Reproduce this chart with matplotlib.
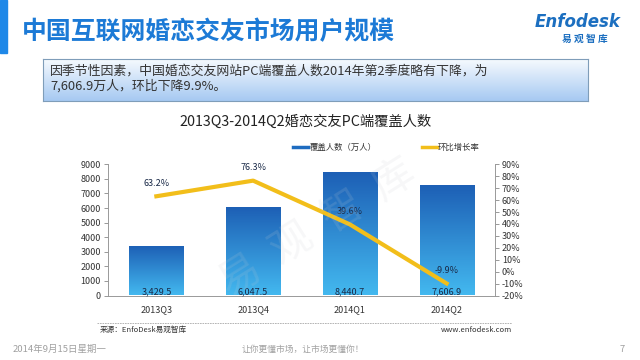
import numpy as np
import matplotlib
matplotlib.use('Agg')
import matplotlib.pyplot as plt
from matplotlib.colors import LinearSegmentedColormap
from matplotlib.lines import Line2D
from matplotlib.patches import Rectangle

plt.rcParams['font.family'] = ['Noto Sans CJK SC', 'DejaVu Sans']

quarters = ['2013Q3', '2013Q4', '2014Q1', '2014Q2']
users = [3429.5, 6047.5, 8440.7, 7606.9]          # 覆盖人数（万人）
growth = [63.2, 76.3, 39.6, -9.9]                  # 环比增长率 %
user_labels = ['3,429.5', '6,047.5', '8,440.7', '7,606.9']
left_ticks = list(range(0, 9001, 1000))
right_ticks = list(range(-20, 91, 10))

W, H = 640, 360
fig = plt.figure(figsize=(6.4, 3.6), dpi=100)
fig.patch.set_facecolor('white')

def fx(px):
    return px / W

def fy(py):
    return 1 - py / H

# header
fig.patches.append(Rectangle((0, fy(53)), fx(7), 53 / H, transform=fig.transFigure,
                             color='#1E88E8', zorder=1))
fig.text(fx(22), fy(32), '中国互联网婚恋交友市场用户规模', fontsize=17.9, weight='bold',
         color='#1C7AD6', va='center', ha='left')
fig.text(fx(578), fy(22), 'Enfodesk', fontsize=12, style='italic', weight='bold',
         color='#1C6FC0', va='center', ha='center', family=['DejaVu Sans'])
fig.text(fx(585), fy(39), '易 观 智 库', fontsize=7, style='italic', weight='bold',
         color='#1C6FC0', va='center', ha='center')

# summary box with gradient
box = fig.add_axes([fx(43), fy(101), fx(545), 42 / H])
grad = np.linspace(0, 1, 100).reshape(-1, 1)
box_cmap = LinearSegmentedColormap.from_list('box', ['#F6FAFE', '#A6C9F2'])
box.imshow(grad, aspect='auto', cmap=box_cmap, extent=[0, 1, 0, 1], origin='upper')
box.set_xticks([])
box.set_yticks([])
for s in box.spines.values():
    s.set_color('#7F9DB9')
    s.set_linewidth(0.8)
fig.text(fx(50), fy(71.5), '因季节性因素，中国婚恋交友网站PC端覆盖人数2014年第2季度略有下降，为',
         fontsize=9.3, color='#333333', va='center', ha='left')
fig.text(fx(50), fy(85.5), '7,606.9万人，环比下降9.9%。',
         fontsize=9.3, color='#333333', va='center', ha='left')

# chart
fig.text(fx(306), fy(122), '2013Q3-2014Q2婚恋交友PC端覆盖人数', fontsize=10.3,
         color='#222222', va='center', ha='center')

ax = fig.add_axes([fx(108), fy(295.5), fx(495 - 108), (295.5 - 164.3) / H])
x = np.arange(len(quarters))
bars = ax.bar(x, users, width=0.56, color='none', zorder=2)
bar_cmap = LinearSegmentedColormap.from_list('bar', ['#1D5FB5', '#43B8EF'])
for b in bars:
    x0, y0 = b.get_x(), b.get_y()
    im = ax.imshow(grad, aspect='auto', cmap=bar_cmap, origin='upper',
                   extent=[x0, x0 + b.get_width(), y0, y0 + b.get_height()], zorder=2)
    im.set_clip_path(b)
for xi, lab in zip(x, user_labels):
    ax.text(xi, 220, lab, fontsize=6.5, color='#1A2A48', ha='center', va='center', zorder=3)
ax.set_xlim(-0.5, 3.5)
ax.set_ylim(0, 9000)
ax.set_yticks(left_ticks)
ax.set_xticks(x)
ax.set_xticklabels(quarters)
ax.tick_params(axis='y', labelsize=6.5, colors='#888888', labelcolor='#333333',
               length=3, width=0.6, pad=2)
ax.tick_params(axis='x', labelsize=6.5, labelcolor='#333333', length=0, pad=7)
for s in ['left', 'bottom']:
    ax.spines[s].set_color('#999999')
    ax.spines[s].set_linewidth(0.7)
ax.spines['top'].set_visible(False)
ax.spines['right'].set_visible(False)

ax2 = ax.twinx()
ax2.plot(x, growth, color='#F2BE1A', lw=3, solid_joinstyle='round', zorder=4)
for xi, g in zip(x, growth):
    ax2.text(xi, g + 11, f'{g:.1f}%', fontsize=6.5, color='#1A2A48', ha='center', va='center')
ax2.set_ylim(-20, 90)
ax2.set_yticks(right_ticks)
ax2.set_yticklabels([f'{t}%' for t in right_ticks])
ax2.tick_params(axis='y', labelsize=6.5, colors='#888888', labelcolor='#333333',
                length=3, width=0.6, pad=2)
ax2.spines['right'].set_color('#999999')
ax2.spines['right'].set_linewidth(0.7)
for s in ['top', 'left', 'bottom']:
    ax2.spines[s].set_visible(False)

# faint watermark
fig.text(fx(318), fy(228), '易  观  智  库', fontsize=30, rotation=32, color='#C8CDD3',
         alpha=0.15, ha='center', va='center', zorder=10)

# legend
fig.lines.append(Line2D([fx(293), fx(308)], [fy(147), fy(147)], transform=fig.transFigure,
                        color='#1E6CC0', lw=2.5))
fig.text(fx(310), fy(147), '覆盖人数（万人）', fontsize=6, color='#333333', va='center', ha='left')
fig.lines.append(Line2D([fx(422), fx(437)], [fy(147), fy(147)], transform=fig.transFigure,
                        color='#F2BE1A', lw=2.5))
fig.text(fx(438), fy(147), '环比增长率', fontsize=6, color='#333333', va='center', ha='left')

# footer
fig.lines.append(Line2D([fx(97), fx(512)], [fy(323), fy(323)], transform=fig.transFigure,
                        color='#AAAAAA', lw=0.6, ls=(0, (2, 1))))
fig.text(fx(100), fy(329.5), '来源：EnfoDesk易观智库', fontsize=5.5, color='#333333',
         va='center', ha='left')
fig.text(fx(512), fy(329.5), 'www.enfodesk.com', fontsize=5.5, color='#333333',
         va='center', ha='right')
fig.text(fx(13), fy(349), '2014年9月15日星期一', fontsize=6.8, color='#A0A0A0',
         va='center', ha='left')
fig.text(fx(303), fy(349), '让你更懂市场，让市场更懂你！', fontsize=6.3, color='#A0A0A0',
         va='center', ha='center')
fig.text(fx(622), fy(349), '7', fontsize=6.8, color='#A0A0A0', va='center', ha='center')

fig.savefig('out.png', dpi=100)
